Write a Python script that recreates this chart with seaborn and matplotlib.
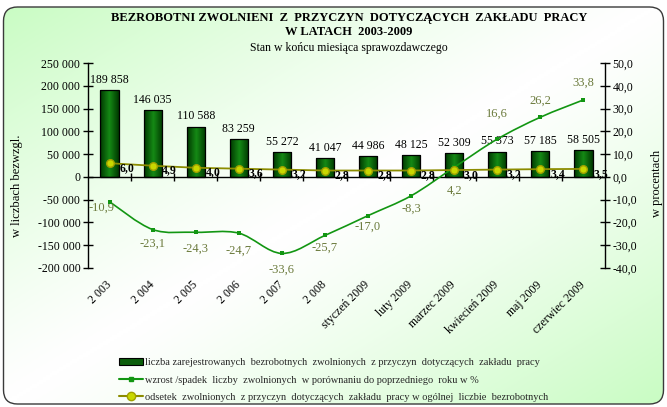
import numpy as np
import pandas as pd
import matplotlib
matplotlib.use("Agg")
import matplotlib.pyplot as plt
import seaborn as sns
from matplotlib.patches import FancyBboxPatch, Patch, PathPatch
from matplotlib.lines import Line2D
from matplotlib.path import Path
import matplotlib.ticker as mticker
from matplotlib.colors import LinearSegmentedColormap

# ---------------- data ----------------
categories = ["2 003", "2 004", "2 005", "2 006", "2 007", "2 008",
              "styczeń 2009", "luty 2009", "marzec 2009", "kwiecień 2009",
              "maj 2009", "czerwiec 2009"]
bezrobotni = [189858, 146035, 110588, 83259, 55272, 41047,
              44986, 48125, 52309, 55373, 57185, 58505]
zmiana_proc = [-10.9, -23.1, -24.3, -24.7, -33.6, -25.7,
               -17.0, -8.3, 4.2, 16.6, 26.2, 33.8]
odsetek = [6.0, 4.9, 4.0, 3.6, 3.2, 2.8, 2.8, 2.8, 3.0, 3.2, 3.4, 3.5]
left_ticks = [-200000, -150000, -100000, -50000, 0, 50000, 100000, 150000, 200000, 250000]
right_ticks = [-40, -30, -20, -10, 0, 10, 20, 30, 40, 50]

title = "BEZROBOTNI ZWOLNIENI  Z  PRZYCZYN  DOTYCZĄCYCH  ZAKŁADU  PRACY\nW LATACH  2003-2009"
subtitle = "Stan w końcu miesiąca sprawozdawczego"
legend_labels = [
    "liczba zarejestrowanych  bezrobotnych  zwolnionych  z przyczyn  dotyczących  zakładu  pracy",
    "wzrost /spadek  liczby  zwolnionych  w porównaniu do poprzedniego  roku w %",
    "odsetek  zwolnionych  z przyczyn  dotyczących  zakładu  pracy w ogólnej  liczbie  bezrobotnych",
]

# label offsets for growth labels (points) - styling only
growth_offsets = [(-6, -4), (0, -10), (0, -12), (0, -13), (0, -12), (0, -9),
                  (0, -8), (0, -9), (0, -17), (0, 18), (0, 12), (0, 12)]

# ---------------- style ----------------
sns.set_theme(style="white")
plt.rcParams["font.family"] = ["Liberation Serif", "DejaVu Serif"]

W, H = 667, 407
fig = plt.figure(figsize=(W / 100, H / 100), dpi=100)
fig.patch.set_facecolor("white")

# background with diagonal gradient inside rounded border
bg = fig.add_axes([0, 0, 1, 1], zorder=-10)
bg.set_xlim(0, W)
bg.set_ylim(0, H)
bg.axis("off")
yy, xx = np.mgrid[0:1:200j, 0:1:300j]
d = (xx - yy)
t = np.abs(d) ** 1.2
cmap = LinearSegmentedColormap.from_list("g", ["#ffffff", "#c8fcc2"])
img = bg.imshow(t, extent=[0, W, 0, H], origin="lower", cmap=cmap, vmin=0, vmax=1,
                aspect="auto", interpolation="bilinear")
border = FancyBboxPatch((3.5, 3), W - 7, H - 10, boxstyle="round,pad=0,rounding_size=14",
                        facecolor="none", edgecolor="#3a3a3a", lw=1.0)
bg.add_patch(border)
img.set_clip_path(border)

# main axes
L, R, T, B = 88, 605, 63, 268
ax = fig.add_axes([L / W, 1 - B / H, (R - L) / W, (B - T) / H])
ax.patch.set_alpha(0)

df = pd.DataFrame({"kat": categories, "liczba": bezrobotni})
sns.barplot(data=df, x="kat", y="liczba", ax=ax, color="#0b6e0b", width=0.42,
            edgecolor="black", linewidth=0.9, saturation=1)
ax.set_xlim(-0.5, len(categories) - 0.5)
ax.set_ylim(left_ticks[0], left_ticks[-1])

# gradient inside bars
bar_cmap = LinearSegmentedColormap.from_list("bar", ["#003800", "#158a15", "#003800"])
grad = np.linspace(0, 1, 64).reshape(1, -1)
for p in ax.patches:
    x0, w, h = p.get_x(), p.get_width(), p.get_height()
    im = ax.imshow(grad, extent=[x0, x0 + w, 0, h], cmap=bar_cmap, aspect="auto",
                   zorder=p.get_zorder(), interpolation="bilinear")
    im.set_clip_path(p)
    p.set_facecolor("none")
    p.set_zorder(p.get_zorder() + 0.1)
ax.set_xlim(-0.5, len(categories) - 0.5)
ax.set_ylim(left_ticks[0], left_ticks[-1])

for i, v in enumerate(bezrobotni):
    ax.annotate(f"{v:,}".replace(",", " "), (i, v), xytext=(0, 3), textcoords="offset points",
                ha="center", va="bottom", fontsize=8.5, color="black")

# spines/ticks of left axis
for s in ["top", "right"]:
    ax.spines[s].set_visible(False)
ax.spines["left"].set_color("black")
ax.spines["left"].set_linewidth(1.0)
ax.spines["bottom"].set_position(("data", 0))
ax.spines["bottom"].set_color("black")
ax.spines["bottom"].set_linewidth(1.0)
ax.set_yticks(left_ticks)
ax.yaxis.set_major_formatter(mticker.FuncFormatter(lambda v, p: f"{int(v):,}".replace(",", " ")))
ax.tick_params(axis="y", direction="inout", length=7, width=1, color="black",
               labelsize=8.5, labelcolor="black", left=True, pad=2)
idx = np.arange(len(categories))
ax.set_xticks(idx[:-1] + 0.5)
ax.tick_params(axis="x", direction="inout", length=6, width=1, color="black",
               labelbottom=False, bottom=True)
ax.set_xlabel("")
ax.set_ylabel("w liczbach bezwzgl.", fontsize=9, color="black")
ax.yaxis.set_label_coords((23 - L) / (R - L), (B - 186) / (B - T))

sec = ax.secondary_xaxis(0.0)
sec.set_xticks(idx, labels=categories)
sec.tick_params(length=0, pad=11, labelsize=8.5, labelcolor="black")
for lbl in sec.get_xticklabels():
    lbl.set_rotation(45)
    lbl.set_ha("right")
    lbl.set_va("center")
    lbl.set_rotation_mode("anchor")
for s in sec.spines.values():
    s.set_visible(False)

# right axis
ax2 = ax.twinx()
ax2.set_ylim(right_ticks[0], right_ticks[-1])
ax2.patch.set_alpha(0)
for s in ["top", "left", "bottom"]:
    ax2.spines[s].set_visible(False)
ax2.spines["right"].set_color("black")
ax2.spines["right"].set_linewidth(1.0)
ax2.set_yticks(right_ticks)
ax2.yaxis.set_major_formatter(mticker.FuncFormatter(lambda v, p: f"{v:.1f}".replace(".", ",")))
ax2.tick_params(axis="y", direction="inout", length=7, width=1, color="black",
                labelsize=8.5, labelcolor="black", right=True, pad=2)
ax2.set_ylabel("w procentach", fontsize=9, color="black")
ax2.yaxis.set_label_coords((651 - L) / (R - L), (B - 183) / (B - T))

# smoothed growth line (Bezier path through data points)
green = "#129612"
pts = np.column_stack([idx, zmiana_proc]).astype(float)
verts = [tuple(pts[0])]
codes = [Path.MOVETO]
n = len(pts)
for i in range(n - 1):
    p0 = pts[max(i - 1, 0)]
    p1 = pts[i]
    p2 = pts[i + 1]
    p3 = pts[min(i + 2, n - 1)]
    c1 = p1 + (p2 - p0) / 6.0
    c2 = p2 - (p3 - p1) / 6.0
    verts += [tuple(c1), tuple(c2), tuple(p2)]
    codes += [Path.CURVE4] * 3
ax2.add_patch(PathPatch(Path(verts, codes), fill=False, edgecolor=green, lw=1.2, zorder=3))
sns.scatterplot(x=idx, y=zmiana_proc, ax=ax2, marker="s", s=12, color=green,
                edgecolor=green, linewidth=0, zorder=4, legend=False)

lab_col = "#6b7a3c"
for i, v in enumerate(zmiana_proc):
    dx, dy = growth_offsets[i]
    ax2.annotate(f"{v:.1f}".replace(".", ","), (i, v), xytext=(dx, dy),
                 textcoords="offset points", ha="center", va="center",
                 fontsize=9, color=lab_col)

# odsetek line
olive = "#8c8c00"
sns.lineplot(x=idx, y=odsetek, ax=ax2, color=olive, lw=1.3, zorder=5, legend=False)
sns.scatterplot(x=idx, y=odsetek, ax=ax2, marker="o", s=30, color="#c8d800",
                edgecolor="#a0a000", linewidth=1, zorder=6, legend=False)
for i, v in enumerate(odsetek):
    ax2.annotate(f"{v:.1f}".replace(".", ","), (i, v), xytext=(7, -3.5),
                 textcoords="offset points", ha="left", va="center",
                 fontsize=8.5, fontweight="bold", color="black", zorder=7)
ax2.set_xlim(-0.5, len(categories) - 0.5)

# titles
fig.text(349 / W, 1 - 25 / H, title, ha="center", va="center", fontsize=9,
         fontweight="bold", color="black", linespacing=1.3)
fig.text(349 / W, 1 - 47.5 / H, subtitle, ha="center", va="center", fontsize=8.5, color="black")

# legend
handles = [
    Patch(facecolor="#0b5e0b", edgecolor="black", lw=0.8),
    Line2D([], [], color=green, lw=1.5, marker="s", markersize=2.5),
    Line2D([], [], color=olive, lw=1.5, marker="o", markersize=6,
           markerfacecolor="#c8d800", markeredgecolor="#a0a000"),
]
fig.legend(handles, legend_labels, loc="upper left", bbox_to_anchor=(119 / W, 1 - 358 / H),
           frameon=False, fontsize=7.5, handlelength=2.3, handletextpad=0.2,
           labelspacing=0.78, borderpad=0, borderaxespad=0, handleheight=0.7)

fig.savefig("out.png", dpi=100)
